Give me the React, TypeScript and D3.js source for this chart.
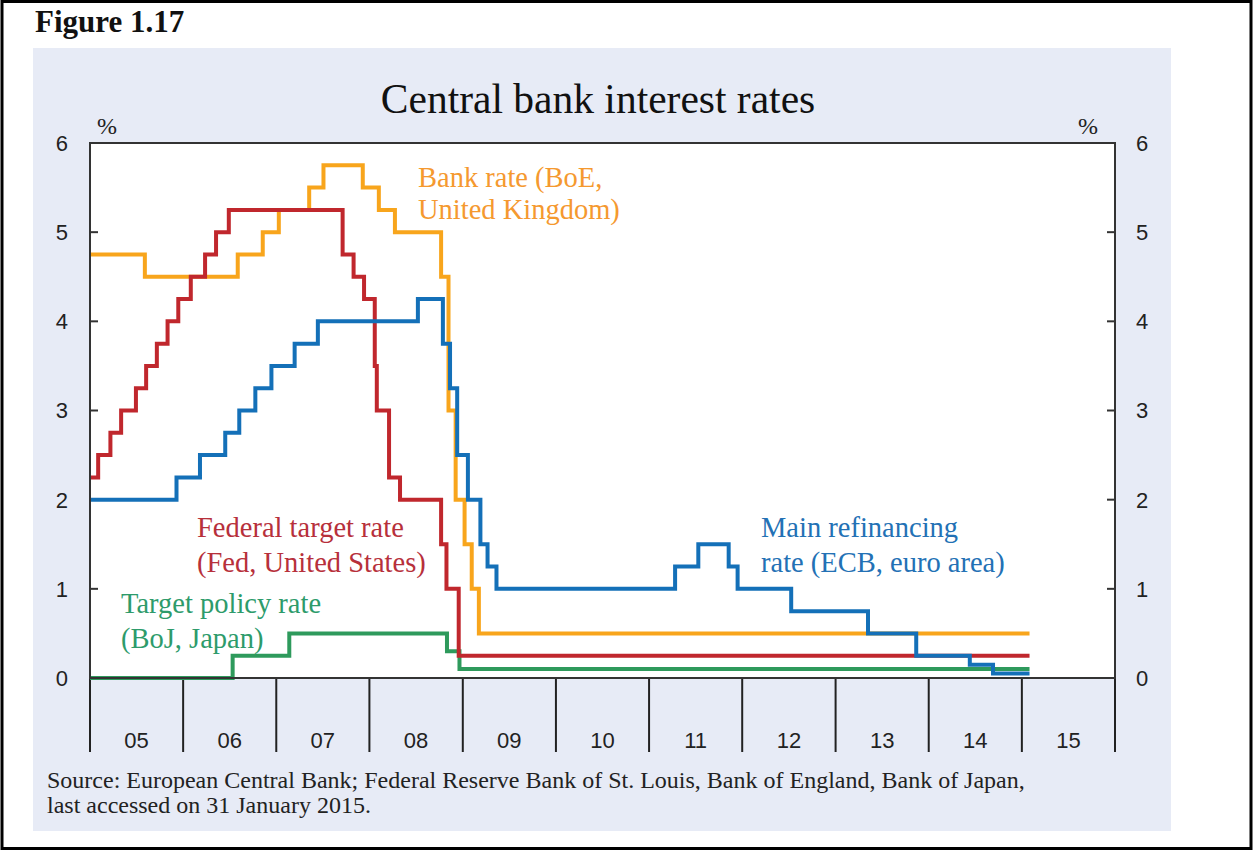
import React from "react";
import * as d3 from "d3";

// ---------- data (step changes) ----------
const fedDates = ["2005-01-01","2005-02-02","2005-03-22","2005-05-03","2005-06-30","2005-08-09","2005-09-20","2005-11-01","2005-12-13","2006-01-31","2006-03-28","2006-05-10","2006-06-29","2007-09-18","2007-10-31","2007-12-11","2008-01-22","2008-01-30","2008-03-18","2008-04-30","2008-10-08","2008-10-29","2008-12-16","2015-01-31"];
const fedRates = [2.25,2.5,2.75,3.0,3.25,3.5,3.75,4.0,4.25,4.5,4.75,5.0,5.25,4.75,4.5,4.25,3.5,3.0,2.25,2.0,1.5,1.0,0.25,0.25];

const boeDates = ["2005-01-01","2005-08-04","2006-08-03","2006-11-09","2007-01-11","2007-05-10","2007-07-05","2007-12-06","2008-02-07","2008-04-10","2008-10-08","2008-11-06","2008-12-04","2009-01-08","2009-02-05","2009-03-05","2015-01-31"];
const boeRates = [4.75,4.5,4.75,5.0,5.25,5.5,5.75,5.5,5.25,5.0,4.5,3.0,2.0,1.5,1.0,0.5,0.5];

const ecbDates = ["2005-01-01","2005-12-06","2006-03-08","2006-06-15","2006-08-09","2006-10-11","2006-12-13","2007-03-14","2007-06-13","2008-07-09","2008-10-15","2008-11-12","2008-12-10","2009-01-21","2009-03-11","2009-04-08","2009-05-13","2011-04-13","2011-07-13","2011-11-09","2011-12-14","2012-07-11","2013-05-08","2013-11-13","2014-06-11","2014-09-10","2015-01-31"];
const ecbRates = [2.0,2.25,2.5,2.75,3.0,3.25,3.5,3.75,4.0,4.25,3.75,3.25,2.5,2.0,1.5,1.25,1.0,1.25,1.5,1.25,1.0,0.75,0.5,0.25,0.15,0.05,0.05];

const bojDates = ["2005-01-01","2006-07-14","2007-02-21","2008-10-31","2008-12-19","2015-01-31"];
const bojRates = [0,0.25,0.5,0.3,0.1,0.1];

const yTicks = [0,1,2,3,4,5,6];
const yearLabels = ["05","06","07","08","09","10","11","12","13","14","15"];

const W = 1254, H = 851;
const SERIF = "'Liberation Serif', 'Times New Roman', serif";
const SANS = "'Liberation Sans', Arial, sans-serif";

export default function App() {
  const left = 90, right = 1115, top = 143, bottom = 678;
  const x = d3.scaleUtc().domain([new Date(Date.UTC(2005,0,1)), new Date(Date.UTC(2016,0,1))]).range([left, right]);
  const y = d3.scaleLinear().domain([0,6]).range([bottom, top]);
  const parse = d3.utcParse("%Y-%m-%d");
  const mk = (ds: string[], vs: number[]) => ds.map((d, i) => ({ d: parse(d) as Date, v: vs[i] }));
  const line = d3.line<{d: Date; v: number}>().x(p => x(p.d)).y(p => y(p.v)).curve(d3.curveStepAfter);

  const series = [
    { data: mk(bojDates, bojRates), color: "#2e9a5c" },
    { data: mk(boeDates, boeRates), color: "#f8a51c" },
    { data: mk(fedDates, fedRates), color: "#c0272d" },
    { data: mk(ecbDates, ecbRates), color: "#1470b8" },
  ];
  const years = d3.utcYear.range(new Date(Date.UTC(2005,0,1)), new Date(Date.UTC(2017,0,1)));

  const labels = [
    { lines: ["Bank rate (BoE,", "United Kingdom)"], x: 418, y: 187, dy: 32, color: "#f5992f" },
    { lines: ["Federal target rate", "(Fed, United States)"], x: 197, y: 537, dy: 35, color: "#b7303b" },
    { lines: ["Main refinancing", "rate (ECB, euro area)"], x: 761, y: 537, dy: 35, color: "#2371b5" },
    { lines: ["Target policy rate", "(BoJ, Japan)"], x: 121, y: 613, dy: 35, color: "#2d9b6b" },
  ];

  return (
    <svg width={W} height={H} style={{ position: "absolute", left: 0, top: 0, display: "block" }}>
      <rect x={0} y={0} width={W} height={H} fill="#fff" />
      <rect x={2} y={1.5} width={1249} height={847} fill="none" stroke="#000" strokeWidth={3} />
      <text x={35} y={32} fontFamily={SERIF} fontWeight="bold" fontSize={31} fill="#111">Figure 1.17</text>
      <rect x={33} y={48} width={1138} height={783} fill="#e7ebf6" />
      <text x={598} y={113} textAnchor="middle" fontFamily={SERIF} fontSize={41.5} fill="#111">Central bank interest rates</text>
      <text x={97} y={134} fontFamily={SERIF} fontSize={24} fill="#222">%</text>
      <text x={1078} y={134} fontFamily={SERIF} fontSize={24} fill="#222">%</text>
      <rect x={left} y={top} width={right - left} height={bottom - top} fill="#fff" />
      {yTicks.map(t => (
        <g key={"yt" + t}>
          <text x={68} y={y(t)} dy="0.36em" textAnchor="end" fontFamily={SANS} fontSize={22} fill="#222">{t}</text>
          <text x={1136} y={y(t)} dy="0.36em" textAnchor="start" fontFamily={SANS} fontSize={22} fill="#222">{t}</text>
          {t > 0 && t < 6 && <line x1={left} x2={left + 8} y1={y(t)} y2={y(t)} stroke="#333" strokeWidth={2} />}
          {t > 0 && t < 6 && <line x1={right - 8} x2={right} y1={y(t)} y2={y(t)} stroke="#333" strokeWidth={2} />}
        </g>
      ))}
      {years.map((yr, i) => (
        <line key={"yl" + i} x1={x(yr)} x2={x(yr)} y1={bottom} y2={752} stroke="#222" strokeWidth={2} />
      ))}
      {yearLabels.map((lab, i) => {
        const a = years[i], b = years[i + 1];
        return <text key={"xl" + lab} x={(x(a) + x(b)) / 2} y={748} textAnchor="middle" fontFamily={SANS} fontSize={22} fill="#222">{lab}</text>;
      })}
      {series.map((s, i) => (
        <path key={"s" + i} d={line(s.data) || ""} fill="none" stroke={s.color} strokeWidth={4} strokeLinejoin="miter" />
      ))}
      <rect x={left} y={top} width={right - left} height={bottom - top} fill="none" stroke="#333" strokeWidth={2} />
      {labels.map((l, i) => (
        <text key={"lab" + i} fontFamily={SERIF} fontSize={28.5} fill={l.color}>
          {l.lines.map((t, j) => <tspan key={j} x={l.x} y={l.y + j * l.dy}>{t}</tspan>)}
        </text>
      ))}
      <text fontFamily={SERIF} fontSize={24} fill="#222">
        <tspan x={47} y={788}>Source: European Central Bank; Federal Reserve Bank of St. Louis, Bank of England, Bank of Japan,</tspan>
        <tspan x={47} y={813}>last accessed on 31 January 2015.</tspan>
      </text>
    </svg>
  );
}
